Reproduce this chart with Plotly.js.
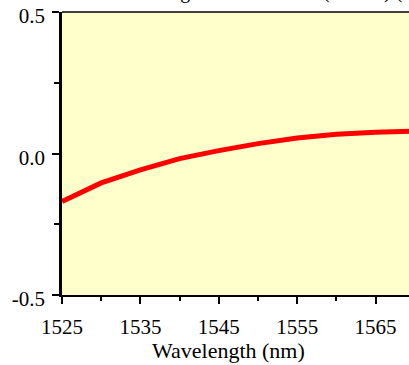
<!DOCTYPE html>
<html>
<head>
<meta charset="utf-8">
<script src="https://cdn.plot.ly/plotly-3.0.1.min.js"></script>
<style>
html,body{margin:0;padding:0;overflow:hidden;background:#fff;width:409px;height:365px;}
#chart{width:460px;height:365px;position:absolute;left:0;top:0;}
</style>
</head>
<body>
<div id="chart"></div>
<script>
const wavelength = [1525, 1530, 1535, 1540, 1545, 1550, 1555, 1560, 1565, 1570, 1575];
const dispersion = [-0.170, -0.104, -0.058, -0.018, 0.010, 0.035, 0.055, 0.068, 0.075, 0.080, 0.083];
const xTickVals = [1525, 1535, 1545, 1555, 1565, 1575];
const xTickText = ['1525', '1535', '1545', '1555', '1565', '1575'];
const yTickVals = [-0.5, 0, 0.5];
const yTickText = ['-0.5', '0.0', '0.5'];
const titleText = 'Change in Attenuation (dB/km) (Aged)';
const xTitle = 'Wavelength (nm)';

const font = 'Liberation Serif';
const W = 460, H = 365, L = 62, R = 6, T = 12, B = 70;
const PW = W - L - R;

const trace = {
  x: wavelength, y: dispersion, type: 'scatter', mode: 'lines',
  line: {color: '#ff0000', width: 5}, hoverinfo: 'skip'
};

const layout = {
  width: W, height: H,
  margin: {l: L, r: R, t: T, b: B, pad: 0},
  paper_bgcolor: '#ffffff', plot_bgcolor: '#ffffcc',
  showlegend: false,
  font: {family: font, color: '#000', size: 21},
  xaxis: {
    range: [1525, 1575], tickvals: xTickVals, ticktext: xTickText,
    ticks: 'outside', ticklen: 7, tickwidth: 1.5, tickcolor: '#000',
    showline: true, linecolor: '#000', linewidth: 2, mirror: false,
    showgrid: false, zeroline: false, ticklabelstandoff: 5,
    tickfont: {family: font, size: 21, color: '#000'},
    minor: {dtick: 10, tick0: 1530, ticks: 'outside', ticklen: 4, tickwidth: 1.5, tickcolor: '#000', showgrid: false}
  },
  yaxis: {
    range: [-0.5, 0.5], tickvals: yTickVals, ticktext: yTickText,
    ticks: 'outside', ticklen: 7, tickwidth: 1.5, tickcolor: '#000',
    showline: true, linecolor: '#000', linewidth: 2.5,
    showgrid: false, zeroline: false, ticklabelstandoff: 3, ticklabelshift: 4,
    ticklabeloverflow: 'allow',
    tickfont: {family: font, size: 21, color: '#000'},
    minor: {dtick: 0.5, tick0: 0.25, ticks: 'outside', ticklen: 5, tickwidth: 1.5, tickcolor: '#000', showgrid: false}
  },
  shapes: [
    {type: 'line', xref: 'paper', yref: 'paper', x0: 0, x1: 1, y0: 1, y1: 1, line: {color: '#000', width: 1.5}}
  ],
  annotations: [
    {text: xTitle, xref: 'paper', yref: 'paper', x: (228 - L) / PW, y: 0, yshift: -70,
     xanchor: 'center', yanchor: 'bottom', showarrow: false, font: {family: font, size: 22, color: '#000'}},
    {text: titleText, xref: 'paper', yref: 'paper', x: (136 - L) / PW, y: 1, yshift: 7,
     xanchor: 'left', yanchor: 'bottom', showarrow: false, font: {family: font, size: 20, color: '#000'}}
  ]
};

Plotly.newPlot('chart', [trace], layout, {displayModeBar: false});
</script>
</body>
</html>
